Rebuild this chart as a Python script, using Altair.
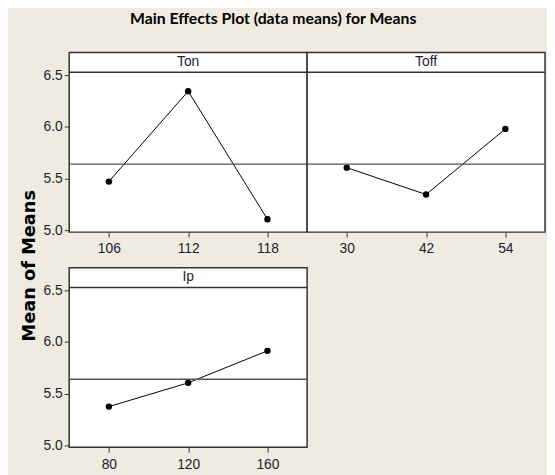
import altair as alt
import pandas as pd

# ---- data ----
ton_levels = [106, 112, 118]
ton_means = [5.47, 6.345, 5.105]
toff_levels = [30, 42, 54]
toff_means = [5.605, 5.345, 5.98]
ip_levels = [80, 120, 160]
ip_means = [5.375, 5.605, 5.915]
grand_mean = 5.64
y_ticks = [5.0, 5.5, 6.0, 6.5]
x_domains = {"Ton": [103, 121], "Toff": [24, 60], "Ip": [60, 180]}

W, H, HEADER = 241, 182, 20
Y_DOMAIN = [4.981, 6.72]
LFONT = "Liberation Sans"
LABEL_COLOR = "#1c1c30"


def panel(name, levels, means, show_y):
    df = pd.DataFrame({"level": levels, "mean": means})
    x = alt.X(
        "level:Q",
        scale=alt.Scale(domain=x_domains[name], nice=False, zero=False),
        axis=alt.Axis(values=levels, title=None, domain=False, grid=False,
                      tickSize=5, tickColor="#333", labelPadding=5, format="d",
                      labelFont=LFONT, labelFontSize=14, labelColor=LABEL_COLOR),
    )
    if show_y:
        yaxis = alt.Axis(values=y_ticks, format=".1f", title=None, domain=False,
                         grid=False, tickSize=5, tickColor="#333", labelPadding=2,
                         labelFont=LFONT, labelFontSize=14, labelColor=LABEL_COLOR)
    else:
        yaxis = None
    y = alt.Y("mean:Q", scale=alt.Scale(domain=Y_DOMAIN, nice=False, zero=False), axis=yaxis)

    base = alt.Chart(df)
    line = base.mark_line(color="black", strokeWidth=1).encode(x=x, y=y)
    pts = base.mark_circle(color="black", size=42, opacity=1).encode(x="level:Q", y="mean:Q")
    mean_rule = alt.Chart(pd.DataFrame({"m": [grand_mean]})).mark_rule(
        color="#555", strokeWidth=1.3).encode(y="m:Q")
    lab = pd.DataFrame({"t": [name]})
    header_rule = alt.Chart(lab).mark_rule(color="#333", strokeWidth=1.5).encode(
        y=alt.value(HEADER), x=alt.value(0), x2=alt.value(W))
    header_text = alt.Chart(lab).mark_text(
        font=LFONT, fontSize=14, color=LABEL_COLOR, baseline="middle", align="center"
    ).encode(text="t:N", x=alt.value(W / 2), y=alt.value(HEADER / 2))
    return alt.layer(line, pts, mean_rule, header_rule, header_text).properties(width=W, height=H)


ton = panel("Ton", ton_levels, ton_means, True)
toff = panel("Toff", toff_levels, toff_means, False)
ip = panel("Ip", ip_levels, ip_means, True)

top = alt.hconcat(ton, toff, spacing=0, bounds="flush")
inner = alt.vconcat(
    top, ip, spacing=10,
    title=alt.TitleParams("Mean of Means", orient="left", anchor="middle",
                          font="DejaVu Sans", fontSize=18, fontWeight="bold",
                          color="black", offset=3, dx=-4),
)
chart = alt.vconcat(
    inner,
    title=alt.TitleParams("Main Effects Plot (data means) for Means", anchor="middle",
                          font="Lato", fontSize=16, fontWeight="bold", color="black",
                          offset=25, dx=-11),
).configure(
    background="#EFEBE1", padding={"left": 13, "top": 0, "right": 0, "bottom": 0}
).configure_view(stroke="#333", strokeWidth=1.5, fill="white")

chart.save("out.html", embed_options={"renderer": "svg", "actions": False})
